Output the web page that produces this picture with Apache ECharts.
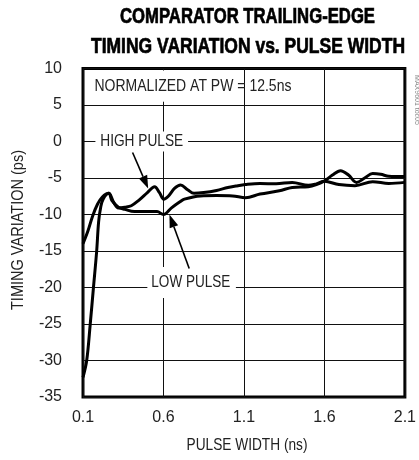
<!DOCTYPE html>
<html>
<head>
<meta charset="utf-8">
<script src="https://cdn.jsdelivr.net/npm/echarts@6/dist/echarts.min.js"></script>
<style>
html,body{margin:0;padding:0;background:#fff;}
#c{width:419px;height:460px;}
</style>
</head>
<body>
<div id="c"></div>
<script>
// ---- data ----
const xTickLabels = ['0.1', '0.6', '1.1', '1.6', '2.1'];
const yTickLabels = ['10', '5', '0', '-5', '-10', '-15', '-20', '-25', '-30', '-35'];

const highX = [0.100,0.123,0.145,0.165,0.185,0.197,0.210,0.225,0.260,0.290,0.320,0.360,0.400,0.450,0.500,0.545,0.575,0.602,0.630,0.670,0.706,0.750,0.790,0.850,0.930,1.000,1.050,1.110,1.200,1.300,1.400,1.500,1.550,1.600,1.690,1.790,1.900,2.000,2.100];
const highY = [-32.3,-30.0,-25.0,-20.0,-15.0,-11.0,-9.0,-7.9,-7.1,-8.3,-9.1,-9.0,-8.8,-8.0,-7.0,-6.2,-7.0,-7.9,-7.5,-6.4,-5.95,-6.6,-7.1,-7.0,-6.7,-6.3,-6.1,-5.9,-5.75,-5.8,-5.6,-6.0,-5.8,-5.45,-5.9,-6.05,-5.5,-5.75,-5.6];

const lowX = [0.100,0.130,0.160,0.190,0.220,0.260,0.280,0.320,0.360,0.420,0.500,0.560,0.600,0.650,0.700,0.730,0.830,0.930,1.030,1.110,1.200,1.320,1.400,1.500,1.550,1.600,1.650,1.700,1.750,1.800,1.850,1.900,1.950,2.000,2.100];
const lowY = [-14.0,-12.3,-10.2,-8.6,-7.6,-7.1,-8.1,-9.0,-9.3,-9.6,-9.6,-9.6,-10.0,-9.1,-8.3,-7.9,-7.45,-7.4,-7.45,-7.7,-7.2,-6.75,-6.3,-6.2,-5.9,-5.4,-4.6,-4.0,-4.6,-5.6,-5.0,-4.4,-4.5,-4.75,-4.8];

const titleLines = ['COMPARATOR TRAILING-EDGE', 'TIMING VARIATION vs. PULSE WIDTH'];
const xName = 'PULSE WIDTH (ns)';
const yName = 'TIMING VARIATION (ps)';

// ---- chart ----
const X0 = 0.1; // pulse width at the first tick
const FONT = '"Liberation Sans Narrow", "Liberation Sans", Arial, sans-serif';
const TXT = '#222';

const toPairs = (xs, ys) => xs.map((x, i) => [+(x - X0).toFixed(4), ys[i]]);

const chart = echarts.init(document.getElementById('c'), null, {renderer: 'canvas'});

chart.setOption({
  animation: false,
  backgroundColor: '#fff',
  grid: {
    left: 83, right: 6, top: 68.5, bottom: 63,
    show: true, borderColor: '#000', borderWidth: 3, backgroundColor: 'transparent'
  },
  xAxis: {
    type: 'value', min: 0, max: 2, interval: 0.5,
    axisLine: {show: false}, axisTick: {show: false},
    splitLine: {show: true, lineStyle: {color: '#111', width: 1}},
    axisLabel: {
      margin: 13, fontFamily: FONT, fontSize: 16, color: TXT,
      formatter: (v) => xTickLabels[Math.round(v / 0.5)]
    }
  },
  yAxis: {
    type: 'value', min: -35, max: 10, interval: 5,
    axisLine: {show: false}, axisTick: {show: false},
    splitLine: {show: true, lineStyle: {color: '#111', width: 1}},
    axisLabel: {
      margin: 21, fontFamily: FONT, fontSize: 16, color: TXT,
      formatter: (v) => yTickLabels[Math.round((10 - v) / 5)]
    }
  },
  series: [
    {
      name: 'HIGH PULSE', type: 'line', data: toPairs(highX, highY),
      smooth: 0.35, showSymbol: false, clip: true, z: 5,
      lineStyle: {color: '#000', width: 3}
    },
    {
      name: 'LOW PULSE', type: 'line', data: toPairs(lowX, lowY),
      smooth: 0.35, showSymbol: false, clip: true, z: 5,
      lineStyle: {color: '#000', width: 3}
    }
  ]
});

// ---- annotations ----
const P = (x, y) => chart.convertToPixel({xAxisIndex: 0, yAxisIndex: 0}, [x - X0, y]);
const mctx = document.createElement('canvas').getContext('2d');
function widthOf(text, font) { mctx.font = font; return mctx.measureText(text).width; }

// condensed text: scaled horizontally to the width it has in the reference
function ctext(id, text, font, cx, cy, targetW, opts) {
  opts = opts || {};
  const s = targetW / widthOf(text, font);
  return Object.assign({
    type: 'text', id: id, x: cx, y: cy, scaleX: s, z: 11,
    style: Object.assign({text: text, x: 0, y: 0, align: 'center', verticalAlign: 'middle',
      font: font, fill: TXT}, opts.style || {})
  }, opts.el || {});
}

function arrow(from, to, id) {
  const a = P(from[0], from[1]), b = P(to[0], to[1]);
  const dx = b[0] - a[0], dy = b[1] - a[1], L = Math.hypot(dx, dy);
  const ux = dx / L, uy = dy / L, hl = 13, hw = 4.5;
  const bx = b[0] - ux * hl, by = b[1] - uy * hl;
  return [
    {type: 'line', id: id + 'l', z: 20, shape: {x1: a[0], y1: a[1], x2: bx, y2: by},
     style: {stroke: '#000', lineWidth: 1.6}},
    {type: 'polygon', id: id + 'h', z: 20,
     shape: {points: [[b[0], b[1]], [bx - uy * hw, by + ux * hw], [bx + uy * hw, by - ux * hw]]},
     style: {fill: '#000'}}
  ];
}

const nTL = P(0.55, 10), nBR = P(0.65, 5.45);
const hp = P(0.465, 0);
const lp = P(0.775, -19.3);
const nm = P(0.171, 7.6);
const LF = '17px ' + FONT;
const TF = 'bold 22px ' + FONT;

const graphics = [
  ctext('t1', titleLines[0], TF, 247.5, 17, 255, {style: {fill: '#000', stroke: '#000', lineWidth: 0.7}}),
  ctext('t2', titleLines[1], TF, 248, 47, 314, {style: {fill: '#000', stroke: '#000', lineWidth: 0.7}}),
  {type: 'rect', id: 'nbox', z: 10,
   shape: {x: nTL[0], y: nTL[1] + 2, width: nBR[0] - nTL[0], height: nBR[1] - nTL[1] - 2},
   style: {fill: '#fff'}},
  ctext('norm', 'NORMALIZED AT PW = 12.5ns', LF, nm[0], nm[1], 197, {style: {align: 'left'}}),
  ctext('hp', 'HIGH PULSE', LF, hp[0], hp[1], 83,
        {style: {backgroundColor: '#fff', padding: [2, 6, 1, 6]}}),
  ctext('lp', 'LOW PULSE', LF, lp[0], lp[1], 79,
        {style: {backgroundColor: '#fff', padding: [6, 7, 8, 5]}}),
  ctext('xn', xName, LF, 247, 445, 121),
  ctext('yn', yName, LF, 18.5, 230, 160, {el: {rotation: Math.PI / 2}}),
  {type: 'text', id: 'toc', z: 11, rotation: -Math.PI / 2, x: 417, y: 100,
   style: {text: 'MAX9601 toc05', x: 0, y: 0, align: 'center', verticalAlign: 'middle',
           font: '7px ' + FONT, fill: '#888'}}
].concat(arrow([0.408, -1.5], [0.505, -6.45], 'ha'))
 .concat(arrow([0.76, -17.4], [0.637, -10.0], 'la'));

chart.setOption({graphic: {elements: graphics}});
</script>
</body>
</html>
